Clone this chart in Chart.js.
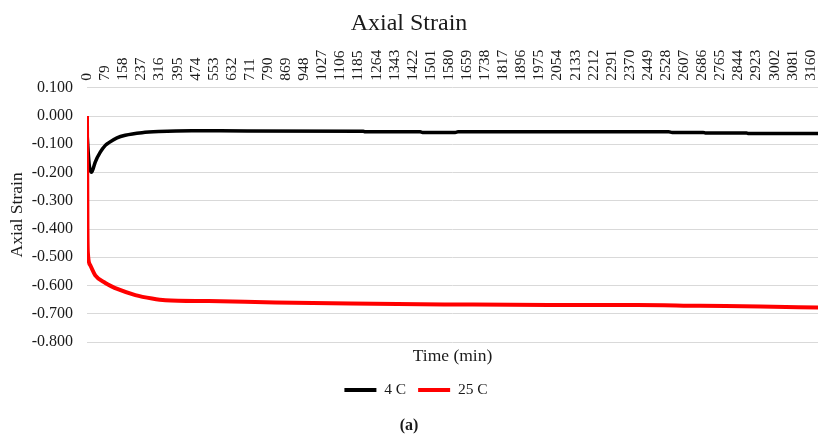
<!DOCTYPE html>
<html>
<head>
<meta charset="utf-8">
<script src="https://cdn.jsdelivr.net/npm/chart.js@4/dist/chart.umd.min.js"></script>
<style>
html,body{margin:0;padding:0;background:#ffffff;}
#wrap{width:818px;height:437px;position:relative;}
</style>
</head>
<body>
<div id="wrap"><canvas id="c" width="818" height="437"></canvas></div>
<script>
// ---- data ----
const seriesNames = ['4 C', '25 C'];
const seriesColors = ['#000000', '#ff0000'];

const xTickValues = [0,79,158,237,316,395,474,553,632,711,790,869,948,1027,1106,1185,1264,1343,1422,1501,1580,1659,1738,1817,1896,1975,2054,2133,2212,2291,2370,2449,2528,2607,2686,2765,2844,2923,3002,3081,3160];
const yTickValues = [0.1, 0.0, -0.1, -0.2, -0.3, -0.4, -0.5, -0.6, -0.7, -0.8];

const time4C   = [0, 5, 10, 19, 27, 36, 58, 80, 94, 131, 167, 240, 313, 458, 700, 1207, 1215, 1455, 1465, 1608, 1620, 2540, 2555, 2690, 2700, 2880, 2890, 3192];
const strain4C = [-0.057, -0.125, -0.175, -0.199, -0.186, -0.163, -0.128, -0.104, -0.095, -0.077, -0.068, -0.059, -0.055, -0.052, -0.053, -0.054, -0.056, -0.056, -0.058, -0.058, -0.056, -0.056, -0.058, -0.058, -0.060, -0.060, -0.062, -0.062];

const time25C   = [0, 2, 4, 14, 36, 80, 138, 211, 284, 342, 530, 822, 1150, 1586, 2022, 2400, 2677, 2940, 3192];
const strain25C = [0.000, -0.400, -0.486, -0.528, -0.564, -0.591, -0.614, -0.634, -0.646, -0.652, -0.655, -0.660, -0.664, -0.667, -0.669, -0.669, -0.672, -0.674, -0.678];

const xMax = 3192;
// ----------------------------------------------

const SERIF = '"Liberation Serif", "Times New Roman", serif';
const TXT = '#1a1a1a';
const X_TICK_SIZE = 15.5;

function toPoints(xs, ys) { return xs.map((x, i) => ({x: x, y: ys[i]})); }

const shiftLegend = {
  id: 'shiftLegend',
  afterLayout(chart) {
    const lg = chart.legend;
    if (lg) { lg.left += 7; lg.right += 7; }
  }
};

new Chart(document.getElementById('c'), {
  type: 'line',
  plugins: [shiftLegend],
  data: {
    datasets: [
      {
        label: seriesNames[0],
        data: toPoints(time4C, strain4C),
        borderColor: seriesColors[0],
        backgroundColor: seriesColors[0],
        borderWidth: 3.5,
        pointRadius: 0,
        cubicInterpolationMode: 'monotone',
        order: 1,
        xAxisID: 'x',
        yAxisID: 'y'
      },
      {
        label: seriesNames[1],
        data: toPoints(time25C, strain25C),
        borderColor: seriesColors[1],
        backgroundColor: seriesColors[1],
        borderWidth: 4,
        pointRadius: 0,
        cubicInterpolationMode: 'monotone',
        order: 0,
        xAxisID: 'x',
        yAxisID: 'y'
      }
    ]
  },
  options: {
    responsive: false,
    animation: false,
    layout: { padding: 0, autoPadding: false },
    scales: {
      x: {
        type: 'linear',
        position: 'top',
        min: 0,
        max: xMax,
        afterBuildTicks: (s) => { s.ticks = xTickValues.map(v => ({value: v})); },
        afterFit: (s) => { s.height = 50; s.paddingLeft = 0; s.paddingRight = 0; },
        ticks: {
          autoSkip: false,
          minRotation: 90,
          maxRotation: 90,
          padding: 7,
          labelOffset: X_TICK_SIZE * 1.2,
          color: TXT,
          font: { family: SERIF, size: X_TICK_SIZE },
          callback: (v) => String(v)
        },
        grid: { display: false, drawTicks: false },
        border: { display: false }
      },
      x2: {
        type: 'linear',
        position: 'bottom',
        display: true,
        afterFit: (s) => { s.height = 28.25; s.paddingLeft = 0; s.paddingRight = 0; },
        ticks: { display: false },
        grid: { display: false, drawTicks: false },
        border: { display: false },
        title: {
          display: true,
          text: 'Time (min)',
          color: TXT,
          font: { family: SERIF, size: 17.5 },
          padding: { top: 0, bottom: 3.25 }
        }
      },
      y: {
        type: 'linear',
        position: 'left',
        min: -0.8,
        max: 0.1,
        afterBuildTicks: (s) => { s.ticks = yTickValues.map(v => ({value: v})); },
        afterFit: (s) => { s.width = 87; s.paddingTop = 0; s.paddingBottom = 0; },
        ticks: {
          padding: 14,
          color: TXT,
          font: { family: SERIF, size: 16 },
          callback: (v) => (Math.abs(v) < 1e-9 ? '0.000' : Number(v).toFixed(3))
        },
        grid: { color: '#d9d9d9', lineWidth: 1, drawTicks: false },
        border: { display: false },
        title: {
          display: true,
          text: 'Axial Strain',
          color: TXT,
          font: { family: SERIF, size: 17.5 },
          padding: { top: 7, bottom: 0 }
        }
      }
    },
    plugins: {
      tooltip: { enabled: false },
      title: {
        display: true,
        text: 'Axial Strain',
        color: TXT,
        font: { family: SERIF, size: 24, weight: 'normal' },
        padding: { top: 9, bottom: 0 }
      },
      subtitle: {
        display: true,
        position: 'bottom',
        text: '(a)',
        color: TXT,
        font: { family: SERIF, size: 16, weight: 'bold', lineHeight: 1 },
        padding: { top: 10.25, bottom: 3 }
      },
      legend: {
        display: true,
        position: 'bottom',
        labels: {
          boxWidth: 32,
          boxHeight: 4,
          padding: 12,
          color: TXT,
          font: { family: SERIF, size: 15.5 },
          sort: (a, b) => a.datasetIndex - b.datasetIndex,
          generateLabels: (chart) => {
            const items = Chart.defaults.plugins.legend.labels.generateLabels(chart);
            items.forEach(it => { it.lineWidth = 0; it.strokeStyle = 'rgba(0,0,0,0)'; });
            return items;
          }
        }
      }
    }
  }
});
</script>
</body>
</html>
